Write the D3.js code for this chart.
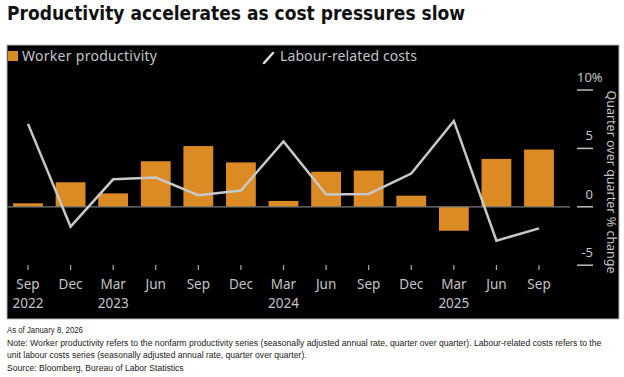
<!DOCTYPE html>
<html lang="en">
	<head>
		<meta charset="utf-8">
		<title>Productivity accelerates as cost pressures slow</title>
		<script type="text/javascript" src="https://cdn.jsdelivr.net/npm/d3@7"></script>
		<style type="text/css">
			body { margin: 0; background: #fff; }
			text { font-family: "Noto Sans", sans-serif; }
		</style>
	</head>
	<body>
		<script type="text/javascript">

			//Width and height
			let w = 624;
			let h = 377;

			//Data
			let quarters = ["Sep 2022", "Dec 2022", "Mar 2023", "Jun 2023", "Sep 2023", "Dec 2023", "Mar 2024",
							"Jun 2024", "Sep 2024", "Dec 2024", "Mar 2025", "Jun 2025", "Sep 2025"];
			let productivity = [0.3, 2.1, 1.15, 3.9, 5.2, 3.8, 0.5, 3.0, 3.1, 0.95, -2.05, 4.1, 4.9];
			let labourCosts = [7.1, -1.7, 2.35, 2.5, 1.0, 1.4, 5.6, 1.05, 1.1, 2.85, 7.35, -2.9, -1.85];
			let yTicks = [10, 5, 0, -5];
			let notes = [
				"As of January 8, 2026",
				"Note: Worker productivity refers to the nonfarm productivity series (seasonally adjusted annual rate, quarter over quarter). Labour-related costs refers to the",
				"unit labour costs series (seasonally adjusted annual rate, quarter over quarter).",
				"Source: Bloomberg, Bureau of Labor Statistics"
			];

			let orange = "#dc8b24";
			let grey = "#c4c4c4";

			//Scales
			let x = d3.scaleBand()
					  .domain(quarters)
					  .range([6.7, 560.3])
					  .paddingInner(0.3)
					  .paddingOuter(0.15);

			let y = d3.scaleLinear()
					  .domain([-5, 10])
					  .range([265.2, 90]);

			//Create SVG element
			let svg = d3.select("body")
						.append("svg")
						.attr("width", w)
						.attr("height", h);

			//Title
			svg.append("text")
			   .attr("x", 7)
			   .attr("y", 20)
			   .attr("textLength", 458)
			   .attr("lengthAdjust", "spacingAndGlyphs")
			   .style("font-family", "'DejaVu Sans', sans-serif")
			   .style("font-weight", "bold")
			   .style("font-size", "19.5px")
			   .style("fill", "#111")
			   .text("Productivity accelerates as cost pressures slow");

			//Black panel
			svg.append("rect")
			   .attr("x", 7)
			   .attr("y", 45)
			   .attr("width", 612)
			   .attr("height", 274)
			   .style("fill", "#000")
			   .style("stroke", "#b5b5b5")
			   .style("stroke-width", 1);

			//Legend
			svg.append("rect")
			   .attr("x", 8)
			   .attr("y", 51)
			   .attr("width", 10)
			   .attr("height", 10)
			   .style("fill", orange);
			svg.append("text")
			   .attr("x", 22)
			   .attr("y", 61)
			   .attr("textLength", 135)
			   .style("font-size", "14px")
			   .style("fill", grey)
			   .text("Worker productivity");
			svg.append("line")
			   .attr("x1", 264).attr("y1", 63)
			   .attr("x2", 273).attr("y2", 53)
			   .style("stroke", "#e0e0e0")
			   .style("stroke-width", 2.5)
			   .style("stroke-linecap", "round");
			svg.append("text")
			   .attr("x", 280)
			   .attr("y", 61)
			   .attr("textLength", 137)
			   .style("font-size", "14px")
			   .style("fill", grey)
			   .text("Labour-related costs");

			//Bars
			svg.selectAll(".bar")
			   .data(quarters)
			   .enter()
			   .append("rect")
			   .attr("class", "bar")
			   .attr("x", (d)=> x(d))
			   .attr("width", x.bandwidth())
			   .attr("y", (d, i)=> y(Math.max(0, productivity[i])))
			   .attr("height", (d, i)=> Math.abs(y(productivity[i]) - y(0)))
			   .style("fill", orange);

			//Zero line
			svg.append("line")
			   .attr("x1", 7).attr("x2", 570)
			   .attr("y1", y(0)).attr("y2", y(0))
			   .style("stroke", "#7a7a7a")
			   .style("stroke-width", 1.2);

			//Labour cost line
			let line = d3.line()
						 .x((d, i)=> x(quarters[i]) + x.bandwidth() / 2)
						 .y((d)=> y(d));
			svg.append("path")
			   .datum(labourCosts)
			   .attr("d", line)
			   .style("fill", "none")
			   .style("stroke", "#c8c8c8")
			   .style("stroke-width", 2.5)
			   .style("stroke-linejoin", "miter");

			//Y axis on the right
			svg.selectAll(".ytick")
			   .data(yTicks)
			   .enter()
			   .append("line")
			   .attr("class", "ytick")
			   .attr("x1", 577).attr("x2", 593)
			   .attr("y1", (d)=> y(d)).attr("y2", (d)=> y(d))
			   .style("stroke", "#bdbdbd")
			   .style("stroke-width", 1.5);
			svg.selectAll(".ylabel")
			   .data(yTicks)
			   .enter()
			   .append("text")
			   .attr("class", "ylabel")
			   .attr("x", (d)=> d == 10 ? 577 : 593)
			   .attr("y", (d)=> y(d) - 8)
			   .attr("text-anchor", (d)=> d == 10 ? "start" : "end")
			   .style("font-size", "13px")
			   .style("fill", grey)
			   .text((d)=> d == 10 ? "10%" : d);

			svg.append("text")
			   .attr("transform", "translate(607," + 182 + ") rotate(90)")
			   .attr("text-anchor", "middle")
			   .style("font-size", "12.5px")
			   .style("fill", grey)
			   .text("Quarter over quarter % change");

			//X axis ticks and labels
			let xt = svg.selectAll(".xtick")
						.data(quarters)
						.enter()
						.append("g")
						.attr("class", "xtick")
						.attr("transform", (d)=> "translate(" + (x(d) + x.bandwidth() / 2) + ",0)");
			xt.append("line")
			  .attr("y1", 265).attr("y2", 270)
			  .style("stroke", "#aaa")
			  .style("stroke-width", 1.2);
			xt.append("text")
			  .attr("y", 289)
			  .attr("text-anchor", "middle")
			  .style("font-size", "13.5px")
			  .style("fill", grey)
			  .text((d)=> d.split(" ")[0]);
			xt.append("text")
			  .attr("y", 308)
			  .attr("text-anchor", "middle")
			  .style("font-size", "13.5px")
			  .style("fill", grey)
			  .text((d, i)=> (i == 0 || d.startsWith("Mar")) ? d.split(" ")[1] : "");

			//Footnotes, squeezed horizontally to the reference widths
			let noteWidths = [76, 595, 300, 177];
			svg.selectAll(".note")
			   .data(notes)
			   .enter()
			   .append("text")
			   .attr("class", "note")
			   .style("font-family", "'Liberation Sans Narrow', 'Liberation Sans', sans-serif")
			   .style("font-size", "9.5px")
			   .style("fill", "#222")
			   .text((d)=> d)
			   .each(function(d, i) {
			   		let natural = this.getComputedTextLength();
			   		let k = noteWidths[i] / natural;
			   		d3.select(this)
			   		  .attr("transform", "translate(7," + (333 + i * 12.6) + ") scale(" + k + ",1)");
			   });

		</script>
	</body>
</html>
